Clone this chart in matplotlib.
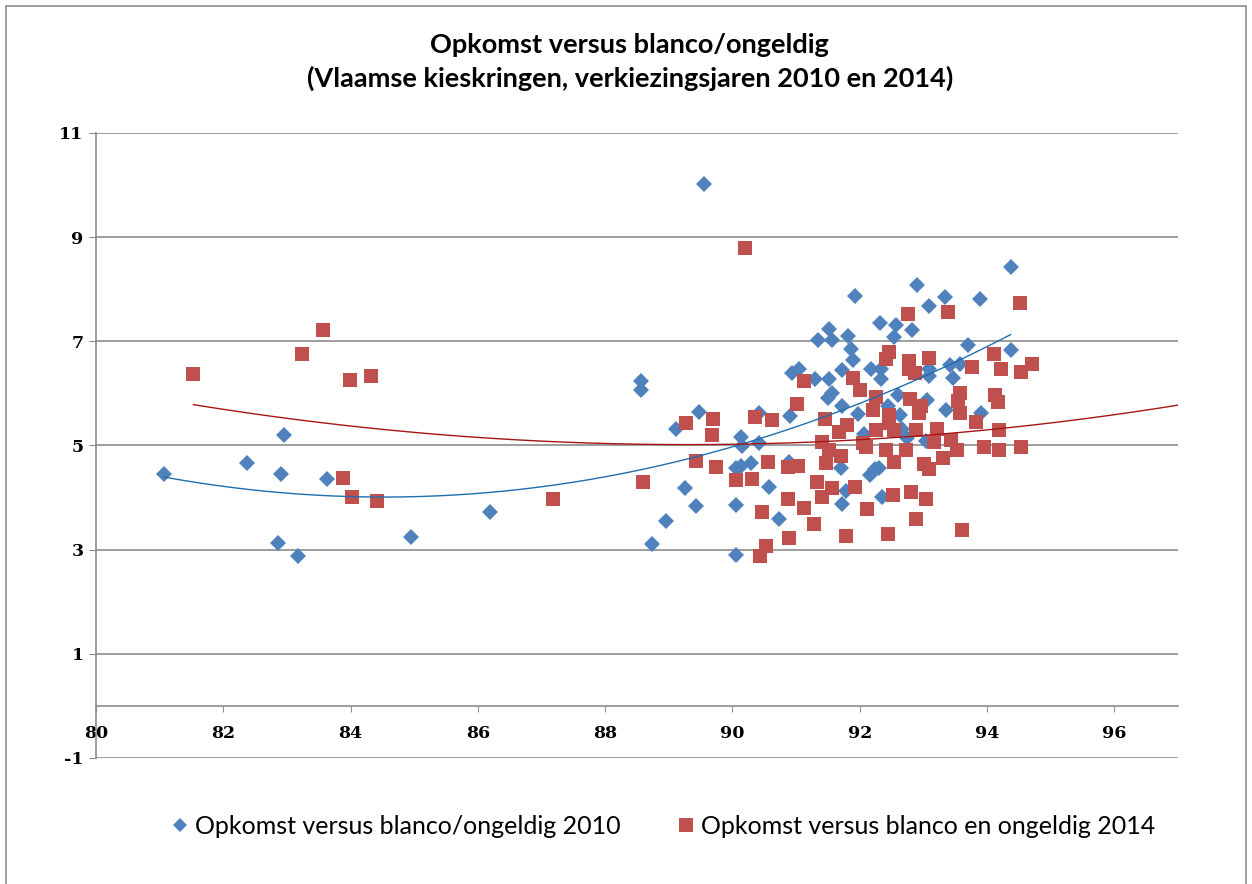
import numpy as np
import matplotlib
matplotlib.use("Agg")
import matplotlib.pyplot as plt
from matplotlib.patches import Rectangle


# ------------------------------
# Data (opkomst %, blanco/ongeldig %)
# ------------------------------
opkomst_2010 = [
    81.07, 82.38, 82.95, 82.91, 83.63, 82.86, 83.18, 84.95, 86.19,
    88.57, 88.57, 89.56, 89.48, 89.12, 89.26, 89.42, 88.96, 88.74,
    90.14, 90.15, 90.42, 90.42, 90.90, 90.89, 90.05, 90.14, 90.29, 90.57, 90.06, 90.73, 90.06,
    90.94, 91.05, 91.29, 91.52, 91.72, 91.35, 91.56, 91.51, 91.81, 91.87, 91.89, 91.93,
    91.56, 91.50, 91.72, 91.97, 92.07, 91.71, 91.79, 91.72, 92.16, 92.24, 92.35,
    92.18, 92.33, 92.33, 92.32, 92.57, 92.54, 92.82, 92.90, 93.08, 93.34, 93.89, 94.37, 93.70, 94.37,
    92.60, 93.09, 93.09, 93.42, 93.58, 93.46, 93.06, 93.35, 93.90, 92.45, 92.64, 92.66, 92.74, 93.04, 92.31,
]
blanco_2010 = [
    4.46, 4.67, 5.21, 4.45, 4.36, 3.12, 2.88, 3.25, 3.72,
    6.23, 6.06, 10.03, 5.64, 5.32, 4.19, 3.83, 3.55, 3.10,
    5.16, 4.99, 5.05, 5.62, 5.56, 4.69, 4.57, 4.61, 4.66, 4.21, 3.85, 3.58, 2.90,
    6.40, 6.46, 6.28, 6.28, 6.44, 7.03, 7.02, 7.24, 7.11, 6.86, 6.65, 7.87,
    6.01, 5.91, 5.76, 5.60, 5.23, 4.57, 4.13, 3.87, 4.44, 4.55, 4.02,
    6.46, 6.46, 6.28, 7.36, 7.32, 7.08, 7.21, 8.09, 7.67, 7.85, 7.82, 8.42, 6.92, 6.83,
    5.96, 6.47, 6.34, 6.55, 6.57, 6.30, 5.88, 5.69, 5.63, 5.75, 5.59, 5.32, 5.14, 5.08, 4.57,
]

opkomst_2014 = [
    81.53, 83.24, 83.56, 83.99, 84.32, 83.88, 84.02, 84.42, 87.18,
    90.20, 88.59, 89.27, 89.69, 89.68, 89.43, 89.74, 90.35, 90.62, 90.05, 90.30,
    90.56, 90.87, 91.03, 90.88, 91.13, 90.47, 90.89, 90.53, 90.44,
    91.01, 91.12, 91.46, 91.41, 91.51, 91.33, 91.47, 91.71, 91.57, 91.41, 91.92, 92.11, 91.28, 91.79,
    91.90, 92.01, 92.25, 92.21, 91.80, 91.68, 92.26, 92.05, 92.10, 92.41, 92.46,
    92.46, 92.41, 92.75, 93.38, 94.52, 92.77, 93.09, 92.77, 92.87, 94.11, 93.77, 94.22, 94.53, 94.70,
    93.57, 93.55, 93.57, 94.13, 94.17, 92.79, 92.96, 92.93, 92.46, 92.54, 92.88, 93.21, 93.83,
    94.19, 93.17, 93.43, 92.72, 93.52, 93.95, 94.19, 94.53,
    92.54, 93.01, 93.08, 93.30, 92.52, 92.80, 93.04, 92.88, 92.45, 93.60,
]
blanco_2014 = [
    6.37, 6.76, 7.21, 6.26, 6.33, 4.37, 4.02, 3.93, 3.98,
    8.80, 4.29, 5.44, 5.51, 5.21, 4.71, 4.58, 5.54, 5.49, 4.34, 4.35,
    4.69, 4.58, 4.61, 3.98, 3.80, 3.73, 3.22, 3.08, 2.87,
    5.80, 6.23, 5.51, 5.06, 4.92, 4.29, 4.66, 4.80, 4.18, 4.02, 4.21, 3.78, 3.49, 3.26,
    6.30, 6.07, 5.94, 5.69, 5.40, 5.26, 5.30, 5.05, 4.98, 4.92, 5.59,
    6.80, 6.67, 7.53, 7.56, 7.74, 6.62, 6.68, 6.46, 6.40, 6.76, 6.51, 6.46, 6.42, 6.57,
    6.01, 5.85, 5.62, 5.96, 5.83, 5.89, 5.75, 5.62, 5.43, 5.30, 5.30, 5.32, 5.46,
    5.30, 5.06, 5.10, 4.92, 4.92, 4.98, 4.92, 4.97,
    4.69, 4.64, 4.55, 4.76, 4.05, 4.10, 3.97, 3.58, 3.30, 3.38,
]

# points (order 2)
trend_2010_x = [81.07, 83.73, 84.93, 87.91, 90.32, 92.31, 94.37]
trend_2010_y = [4.40, 4.02, 4.01, 4.40, 5.08, 5.96, 7.13]
trend_2014_x = [81.54, 87.91, 92.31, 94.19, 96.97]
trend_2014_y = [5.78, 5.05, 5.14, 5.30, 5.78]

x_ticks = [80, 82, 84, 86, 88, 90, 92, 94, 96]
y_ticks = [-1, 1, 3, 5, 7, 9, 11]

title = "Opkomst versus blanco/ongeldig\n(Vlaamse kieskringen, verkiezingsjaren 2010 en 2014)"
label_2010 = "Opkomst versus blanco/ongeldig 2010"
label_2014 = "Opkomst versus blanco en ongeldig 2014"

blue = "#4F81BD"
red = "#C0504D"
sans = ["Lato", "DejaVu Sans"]
plt.rcParams["axes.unicode_minus"] = False

# ------------------------------
# Figure
# ------------------------------
fig = plt.figure(figsize=(12.52, 8.84), dpi=100)
ax = fig.add_axes([96 / 1252, 1 - 758 / 884, (1178 - 96) / 1252, (758 - 133) / 884])

# outer chart frame
fig.patches.append(Rectangle((6 / 1252, -0.01), 1240 / 1252, 1 - 6 / 884 + 0.01,
                             transform=fig.transFigure, fill=False,
                             edgecolor="#8c8c8c", linewidth=1.2))

ax.plot(opkomst_2010, blanco_2010, linestyle="none", marker="D", markersize=8.2,
        color=blue, markeredgewidth=0, label=label_2010, zorder=3)
ax.plot(opkomst_2014, blanco_2014, linestyle="none", marker="s", markersize=10.4,
        color=red, markeredgewidth=0, label=label_2014, zorder=3)

# trendlines
c10 = np.polyfit(trend_2010_x, trend_2010_y, 2)
xs = np.linspace(min(opkomst_2010), max(opkomst_2010), 200)
ax.plot(xs, np.polyval(c10, xs), color="#1f6fae", linewidth=1.0, zorder=4)

c14 = np.polyfit(trend_2014_x, trend_2014_y, 2)
xs = np.linspace(min(opkomst_2014), 97, 200)
ax.plot(xs, np.polyval(c14, xs), color="#a81414", linewidth=1.0, zorder=4)

# axes styling
ax.set_xlim(80, 97)
ax.set_ylim(-1, 11)
ax.set_xticks(x_ticks)
ax.set_yticks(y_ticks)
ax.yaxis.grid(True, color="#8c8c8c", linewidth=1.2)
ax.set_axisbelow(True)
for s in ["top", "right"]:
    ax.spines[s].set_visible(False)
ax.spines["bottom"].set_position(("data", 0))
ax.spines["bottom"].set_color("#8c8c8c")
ax.spines["bottom"].set_linewidth(1.2)
ax.spines["left"].set_color("#8c8c8c")
ax.spines["left"].set_linewidth(1.2)
ax.tick_params(axis="x", direction="out", length=4, color="#8c8c8c", pad=10,
               labelsize=12.5)
ax.tick_params(axis="y", direction="out", length=5, color="#8c8c8c", pad=4,
               labelsize=12.5)
for lab in ax.get_xticklabels() + ax.get_yticklabels():
    lab.set_family("DejaVu Serif")
    lab.set_fontweight("semibold")

fig.text(0.503, 1 - 62 / 884, title, ha="center", va="center", fontsize=19.5,
         fontweight="bold", family=sans, linespacing=1.45)

fig.legend(loc="center left", bbox_to_anchor=(150 / 1252, 1 - 826 / 884), ncol=2,
           frameon=False, prop={"family": sans, "size": 18},
           handlelength=0.6, handletextpad=0.3, columnspacing=2.3,
           markerscale=0.9)

fig.savefig("out.png", dpi=100)
